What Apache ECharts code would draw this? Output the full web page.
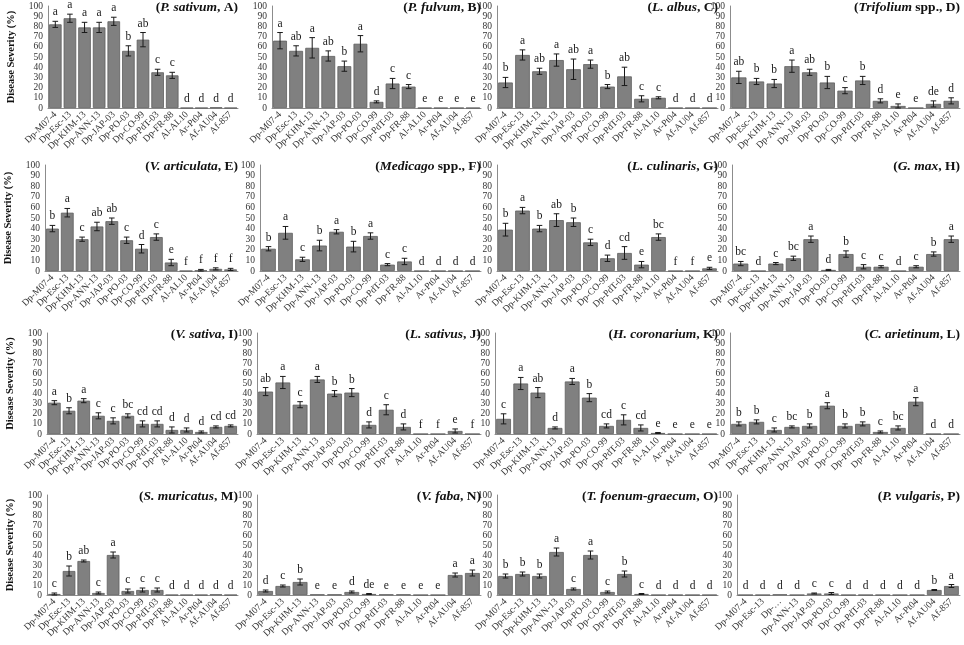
<!DOCTYPE html>
<html>
<head>
<meta charset="utf-8">
<script src="https://cdn.jsdelivr.net/npm/echarts@6/dist/echarts.min.js"></script>
<style>
  html, body { margin: 0; padding: 0; background: #fff; }
  #chart { width: 964px; height: 645px; }
</style>
</head>
<body>
<div id="chart"></div>
<script type="text/javascript">
	// isolates on the x axis (panel P has its third label cut short in the original)
	var isolates = ['Dp-M07-4', 'Dp-Esc-13', 'Dp-KHM-13', 'Dp-ANN-13', 'Dp-JAP-03', 'Dp-PO-03', 'Dp-CO-99',
		'Dp-PdT-03', 'Dp-FR-88', 'Al-AL10', 'Ar-Pt04', 'Af-AU04', 'Af-857'];
	var isolatesP = ['Dp-M07-4', 'Dp-Esc-13', 'Dp-…', 'Dp-ANN-13', 'Dp-JAP-03', 'Dp-PO-03', 'Dp-CO-99',
		'Dp-PdT-03', 'Dp-FR-88', 'Al-AL10', 'Ar-Pt04', 'Af-AU04', 'Af-857'];

	// disease severity (%), error and letters per host
	var sevA = [82, 88, 79, 79, 85, 56, 67, 35, 32, 0, 0, 0.5, 0];
	var errA = [3, 4, 5, 5, 4, 5, 7, 3, 3, 0, 0, 0, 0];
	var letA = ['a', 'a', 'a', 'a', 'a', 'b', 'ab', 'c', 'c', 'd', 'd', 'd', 'd'];

	var sevB = [66, 56, 59, 51, 41, 63, 6, 24, 21, 0, 0, 0, 0];
	var errB = [8, 5, 10, 5, 5, 8, 1, 5, 2, 0, 0, 0, 0];
	var letB = ['a', 'ab', 'a', 'ab', 'b', 'a', 'd', 'c', 'c', 'e', 'e', 'e', 'e'];

	var sevC = [25, 52, 36, 47, 38, 43, 21, 31, 9, 10, 0, 0, 0];
	var errC = [5, 5, 3, 6, 10, 4, 2, 9, 3, 1, 0, 0, 0];
	var letC = ['b', 'a', 'ab', 'a', 'ab', 'a', 'b', 'ab', 'c', 'c', 'd', 'd', 'd'];

	var sevD = [30, 26, 24, 41, 35, 25, 17, 27, 7, 2, 0, 4, 7];
	var errD = [6, 3, 4, 6, 3, 6, 3, 4, 2, 2, 0, 3, 3];
	var letD = ['ab', 'b', 'b', 'a', 'ab', 'b', 'c', 'b', 'd', 'e', 'e', 'de', 'd'];

	var sevE = [40, 55, 30, 42, 47, 29, 21, 32, 8, 0, 0.5, 2, 1.5];
	var errE = [3, 4, 2, 4, 3, 3, 4, 3, 3, 0, 1, 1, 1];
	var letE = ['b', 'a', 'c', 'ab', 'ab', 'c', 'd', 'c', 'e', 'f', 'f', 'f', 'f'];

	var sevF = [21, 36, 11, 24, 37, 23, 33, 6, 9, 0, 0, 0, 0];
	var errF = [2, 6, 2, 5, 2, 5, 3, 1, 3, 0, 0, 0, 0];
	var letF = ['b', 'a', 'c', 'b', 'a', 'b', 'a', 'c', 'c', 'd', 'd', 'd', 'd'];

	var sevG = [39, 57, 40, 48, 46, 27, 12, 17, 6, 32, 0, 0, 2.5];
	var errG = [6, 3, 3, 6, 4, 3, 3, 6, 3, 3, 0, 0, 1];
	var letG = ['b', 'a', 'b', 'ab', 'b', 'c', 'd', 'cd', 'e', 'bc', 'f', 'f', 'e'];

	var sevH = [7, 0, 7, 12, 30, 1, 16, 4, 4, 0, 4, 16, 30];
	var errH = [2, 0, 1, 2, 3, 0.5, 3, 2, 1, 0, 1, 2, 3];
	var letH = ['bc', 'd', 'c', 'bc', 'a', 'd', 'b', 'c', 'c', 'd', 'c', 'b', 'a'];

	var sevI = [31, 23, 33, 18, 13, 18, 10, 10, 4, 4, 2, 7, 8];
	var errI = [2, 3, 2, 3, 3, 2, 3, 3, 3, 2, 1, 1, 1];
	var letI = ['a', 'b', 'a', 'c', 'c', 'bc', 'cd', 'cd', 'd', 'd', 'd', 'cd', 'cd'];

	var sevJ = [42, 51, 29, 54, 40, 41, 9, 24, 7, 0, 0, 3, 0];
	var errJ = [4, 6, 3, 3, 3, 4, 3, 5, 3, 0, 0, 2, 0];
	var letJ = ['ab', 'a', 'c', 'a', 'b', 'b', 'd', 'c', 'd', 'f', 'f', 'e', 'f'];

	var sevK = [15, 50, 41, 6, 52, 36, 8, 14, 6, 1, 0, 0, 0];
	var errK = [5, 6, 5, 1, 3, 4, 2, 5, 3, 0.5, 0, 0, 0];
	var letK = ['c', 'a', 'ab', 'd', 'a', 'b', 'cd', 'c', 'cd', 'e', 'e', 'e', 'e'];

	var sevL = [10, 12, 4, 7, 8, 28, 8, 10, 2, 6, 32, 0, 0];
	var errL = [2, 2, 2, 1, 2, 3, 2, 2, 1, 2, 4, 0, 0];
	var letL = ['b', 'b', 'c', 'bc', 'b', 'a', 'b', 'b', 'c', 'bc', 'a', 'd', 'd'];

	var sevM = [1, 24, 34, 2, 40, 4, 5, 5, 0, 0, 0, 0.5, 0];
	var errM = [1, 5, 1, 1, 3, 2, 2, 2, 0, 0, 0, 0, 0];
	var letM = ['c', 'b', 'ab', 'c', 'a', 'c', 'c', 'c', 'd', 'd', 'd', 'd', 'd'];

	var sevN = [4, 9, 13, 0.5, 0.5, 3, 1, 0.5, 0.5, 0, 0, 20, 22];
	var errN = [1, 1, 3, 0, 0, 1, 0.5, 0, 0, 0, 0, 2, 3];
	var letN = ['d', 'c', 'b', 'e', 'e', 'd', 'de', 'e', 'e', 'e', 'e', 'a', 'a'];

	var sevO = [19, 21, 19, 43, 6, 40, 3, 21, 1, 0, 0, 0, 0];
	var errO = [2, 2, 2, 4, 1, 4, 1, 3, 0.5, 0, 0, 0, 0];
	var letO = ['b', 'b', 'b', 'a', 'c', 'a', 'c', 'b', 'c', 'd', 'd', 'd', 'd'];

	var sevP = [0, 0, 0.5, 0, 1.5, 1.5, 0, 0, 0, 0, 0, 5, 9];
	var errP = [0, 0, 0, 0, 0.5, 1, 0, 0, 0, 0, 0, 0.5, 1.5];
	var letP = ['d', 'd', 'd', 'd', 'c', 'c', 'd', 'd', 'd', 'd', 'd', 'b', 'a'];

	// host names: italic part, plain part
	var hostItalic = ['P. sativum', 'P. fulvum', 'L. albus', 'Trifolium', 'V. articulata', 'Medicago', 'L. culinaris', 'G. max',
		'V. sativa', 'L. sativus', 'H. coronarium', 'C. arietinum', 'S. muricatus', 'V. faba', 'T. foenum-graecum', 'P. vulgaris'];
	var hostPlain = [', A', ', B', ', C', ' spp., D', ', E', ' spp., F', ', G', ', H',
		', I', ', J', ', K', ', L', ', M', ', N', ', O', ', P'];

	var sevs = [sevA, sevB, sevC, sevD, sevE, sevF, sevG, sevH, sevI, sevJ, sevK, sevL, sevM, sevN, sevO, sevP];
	var errs = [errA, errB, errC, errD, errE, errF, errG, errH, errI, errJ, errK, errL, errM, errN, errO, errP];
	var lets = [letA, letB, letC, letD, letE, letF, letG, letH, letI, letJ, letK, letL, letM, letN, letO, letP];

	// panel layout (pixels)
	var rowTop = [6, 165, 333, 495];
	var rowHeight = [102, 106, 101, 100];
	var colLeft = [[48, 272, 497, 730], [45, 260, 497, 732], [47, 257, 495, 730], [47, 257, 497, 737]];
	var colRight = [238, 481, 718, 960];

	var serif = '"Liberation Serif", "DejaVu Serif", serif';

	var grids = [], xAxes = [], yAxes = [], series = [], titles = [];

	for (var p = 0; p < 16; p++) {
		var r = Math.floor(p / 4), c = p % 4;
		var left = colLeft[r][c], right = colRight[c];
		grids.push({
			left: left,
			top: rowTop[r],
			width: right - left,
			height: rowHeight[r],
			containLabel: false
		});
		xAxes.push({
			type: 'category',
			gridIndex: p,
			data: p == 15 ? isolatesP : isolates,
			axisLine: { lineStyle: { color: '#8c8c8c', width: 1 } },
			axisTick: { show: false },
			axisLabel: {
				interval: 0,
				rotate: 45,
				margin: 5,
				fontFamily: serif,
				fontSize: 9.5,
				color: '#333'
			}
		});
		yAxes.push({
			type: 'value',
			gridIndex: p,
			min: 0,
			max: 100,
			interval: 10,
			name: c == 0 ? 'Disease Severity (%)' : '',
			nameLocation: 'middle',
			nameRotate: 90,
			nameGap: 31,
			nameTextStyle: { fontFamily: serif, fontWeight: 'bold', fontSize: 10.5, color: '#111' },
			splitLine: { show: false },
			axisTick: { show: false },
			axisLine: { show: true, lineStyle: { color: '#8c8c8c', width: 1 } },
			axisLabel: { fontFamily: serif, fontSize: 9.5, color: '#333', margin: 5 }
		});
		series.push({
			type: 'bar',
			xAxisIndex: p,
			yAxisIndex: p,
			data: sevs[p],
			barCategoryGap: '14%',
			itemStyle: { color: '#808080', borderColor: '#5e5e5e', borderWidth: 0.8 },
			silent: true
		});
		var ebData = [];
		for (var i = 0; i < sevs[p].length; i++) {
			ebData.push([i, sevs[p][i], errs[p][i]]);
		}
		series.push({
			type: 'custom',
			xAxisIndex: p,
			yAxisIndex: p,
			data: ebData,
			z: 5,
			silent: true,
			renderItem: (function (letters) {
				return function (params, api) {
					var x = api.value(0), m = api.value(1), e = api.value(2);
					var top = api.coord([x, m + e]);
					var bot = api.coord([x, Math.max(m - e, 0)]);
					var half = 2.8;
					var style = { stroke: '#1a1a1a', lineWidth: 1 };
					var children = [];
					if (e > 0) {
						children.push({ type: 'line', shape: { x1: top[0], y1: top[1], x2: bot[0], y2: bot[1] }, style: style });
						children.push({ type: 'line', shape: { x1: top[0] - half, y1: top[1], x2: top[0] + half, y2: top[1] }, style: style });
						children.push({ type: 'line', shape: { x1: bot[0] - half, y1: bot[1], x2: bot[0] + half, y2: bot[1] }, style: style });
					}
					children.push({
						type: 'text',
						style: {
							text: letters[params.dataIndex],
							x: top[0],
							y: top[1] - 3,
							align: 'center',
							verticalAlign: 'bottom',
							font: '11.5px ' + serif,
							fill: '#1a1a1a'
						}
					});
					return { type: 'group', children: children };
				};
			})(lets[p])
		});
		titles.push({
			text: '({i|' + hostItalic[p] + '}{b|' + hostPlain[p] + ')}',
			right: 964 - right,
			top: rowTop[r] - 5,
			padding: 0,
			textStyle: {
				fontFamily: serif,
				fontWeight: 'bold',
				fontSize: 13.5,
				color: '#111',
				rich: {
					i: { fontFamily: serif, fontWeight: 'bold', fontStyle: 'italic', fontSize: 13.5, color: '#111' },
					b: { fontFamily: serif, fontWeight: 'bold', fontSize: 13.5, color: '#111' }
				}
			}
		});
	}

	var myChart = echarts.init(document.getElementById('chart'));
	myChart.setOption({
		backgroundColor: '#fff',
		animation: false,
		title: titles,
		grid: grids,
		xAxis: xAxes,
		yAxis: yAxes,
		series: series
	});
</script>
</body>
</html>
